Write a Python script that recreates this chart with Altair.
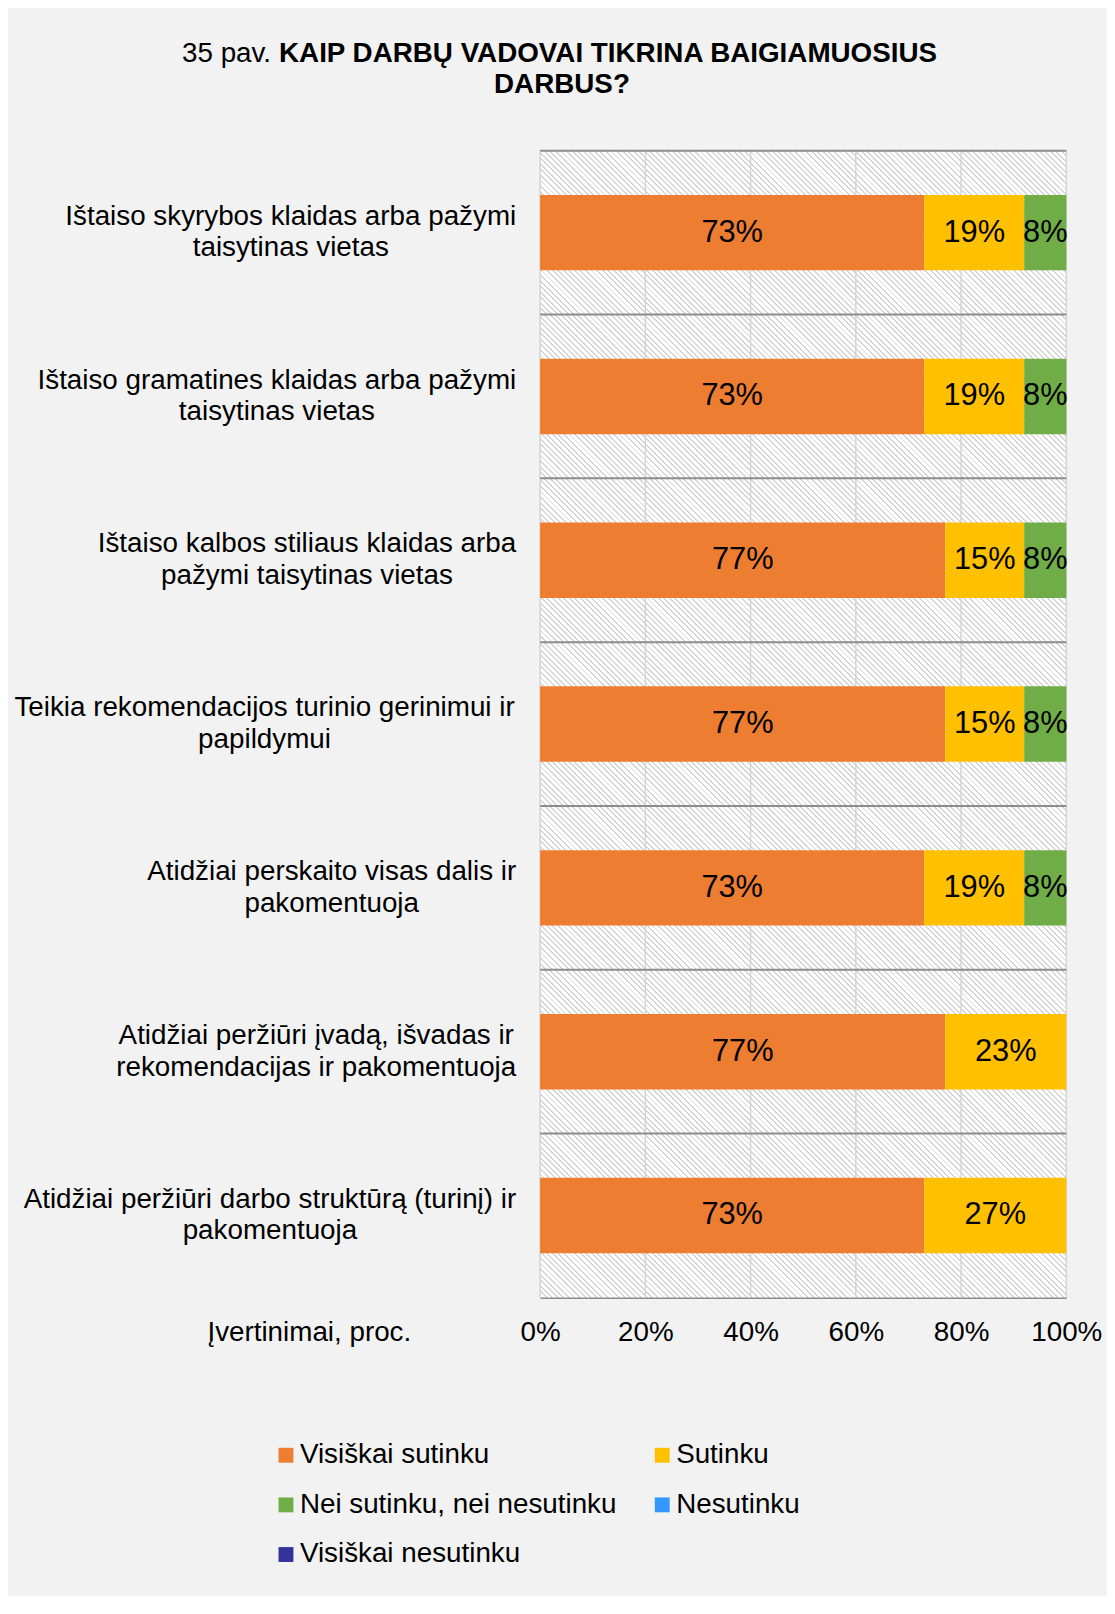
import altair as alt
import pandas as pd

# ---------------- data ----------------
LABEL_LINES = [
    ["Ištaiso skyrybos klaidas arba pažymi", "taisytinas vietas"],
    ["Ištaiso gramatines klaidas arba pažymi", "taisytinas vietas"],
    ["Ištaiso kalbos stiliaus klaidas arba", "pažymi taisytinas vietas"],
    ["Teikia rekomendacijos turinio gerinimui ir", "papildymui"],
    ["Atidžiai perskaito visas dalis ir", "pakomentuoja"],
    ["Atidžiai peržiūri įvadą, išvadas ir", "rekomendacijas ir pakomentuoja"],
    ["Atidžiai peržiūri darbo struktūrą (turinį) ir", "pakomentuoja"],
]
CATS = [" ".join(l) for l in LABEL_LINES]

SERIES = ["Visiškai sutinku", "Sutinku", "Nei sutinku, nei nesutinku",
          "Nesutinku", "Visiškai nesutinku"]
COLORS = ["#ED7D31", "#FFC000", "#70AD47", "#3399FF", "#333399"]
# legend is filled column by column: order so it reads row by row
LEGEND_ORDER = [0, 2, 4, 1, 3]

VIS_SUTINKU = [73, 73, 77, 77, 73, 77, 73]
SUTINKU = [19, 19, 15, 15, 19, 23, 27]
NEI = [8, 8, 8, 8, 8, 0, 0]
NESUTINKU = [0, 0, 0, 0, 0, 0, 0]
VIS_NESUTINKU = [0, 0, 0, 0, 0, 0, 0]

TICKS = [0, 20, 40, 60, 80, 100]

TITLE_PREFIX = "35 pav."
TITLE_BOLD_1 = "KAIP DARBŲ VADOVAI TIKRINA BAIGIAMUOSIUS"
TITLE_BOLD_2 = "DARBUS?"
X_TITLE = "Įvertinimai, proc."

# ---------------- layout constants ----------------
PLOT_W = 530
PLOT_H = 1155
BAND_H = PLOT_H / len(CATS)
FONT = "Liberation Sans"
FS = 28
LINE_H = 32
LABEL_RIGHT = -24

# Arial / Liberation Sans advance widths (per 1000 em)
AW = {
    'a': 556, 'b': 556, 'c': 500, 'd': 556, 'e': 556, 'f': 278, 'g': 556, 'h': 556,
    'i': 222, 'j': 222, 'k': 500, 'l': 222, 'm': 833, 'n': 556, 'o': 556, 'p': 556,
    'q': 556, 'r': 333, 's': 500, 't': 278, 'u': 556, 'v': 500, 'w': 722, 'x': 500,
    'y': 500, 'z': 500, ' ': 278, ',': 278, '.': 278, '(': 333, ')': 333,
    'I': 278, 'T': 611, 'A': 667, 'š': 500, 'ž': 500, 'ū': 556, 'į': 222, 'ą': 556,
}


def text_width(s, size):
    return sum(AW.get(ch, 556) for ch in s) * size / 1000.0


# long table
vals = [VIS_SUTINKU, SUTINKU, NEI, NESUTINKU, VIS_NESUTINKU]
rows = []
for si, (s, v) in enumerate(zip(SERIES, vals)):
    for ci, c in enumerate(CATS):
        rows.append({"cat": c, "series": s, "ord": si, "pct": v[ci]})
df = pd.DataFrame(rows)

bg_df = pd.DataFrame({"cat": CATS, "lo": [TICKS[0]] * len(CATS), "hi": [TICKS[-1]] * len(CATS)})
tick_df = pd.DataFrame({"tick": TICKS})
lab_df = pd.DataFrame({
    "cat": CATS,
    "txt": ["\n".join(l) for l in LABEL_LINES],
    "cx": [LABEL_RIGHT - max(text_width(x, FS) for x in l) / 2 for l in LABEL_LINES],
})


# hatch gradient (diagonal "\" stripes) for a band-size rect
def hatch_gradient(w, h, period=5.6, frac=0.34, line="#d5d5d5", bg="#ffffff"):
    lam = (w + h) / (w * w + h * h)
    x2 = lam * w
    y2 = 1 - lam * h
    n = (w + h) / period
    stops = []
    k = 0
    while k < n:
        a = k / n
        b = min((k + frac) / n, 1.0)
        c = min((k + 1) / n, 1.0)
        stops += [{"offset": a, "color": line}, {"offset": b, "color": line},
                  {"offset": b, "color": bg}, {"offset": c, "color": bg}]
        k += 1
    return {"gradient": "linear", "x1": 0, "y1": 1, "x2": x2, "y2": y2, "stops": stops}


XSCALE = alt.Scale(domain=[0, 100], nice=False, zero=True)
XAXIS = alt.Axis(values=TICKS, labelExpr="datum.value + '%'", grid=False, ticks=False,
                 tickSize=0, labelFontSize=FS, labelFont=FONT, labelColor="#000000",
                 labelPadding=35, labelBaseline="middle", labelFlush=False,
                 labelOverlap=False, domainColor="#8c8c8c",
                 domainWidth=2, title=X_TITLE, titleFont=FONT, titleFontSize=FS,
                 titleFontWeight="normal", titleColor="#000000", titleX=-233,
                 titleY=35, titleAlign="center", titleBaseline="middle", titleAngle=0)
YENC = dict(sort=CATS, scale=alt.Scale(domain=CATS, paddingInner=0, paddingOuter=0), axis=None)

bg = alt.Chart(bg_df).mark_rect(fill=hatch_gradient(PLOT_W, BAND_H), strokeWidth=0).encode(
    x=alt.X("lo:Q", scale=XSCALE, axis=XAXIS),
    x2="hi:Q",
    y=alt.Y("cat:N", **YENC),
)

grid = alt.Chart(tick_df).mark_rule(color="#d4d4d4", strokeWidth=1.5).encode(
    x=alt.X("tick:Q", scale=XSCALE, axis=XAXIS),
    y=alt.value(0),
    y2=alt.value(PLOT_H),
)

seps = alt.Chart(bg_df).mark_rule(color="#8c8c8c", strokeWidth=2).encode(
    y=alt.Y("cat:N", bandPosition=0, **YENC),
    x=alt.value(0),
    x2=alt.value(PLOT_W),
)

stacked = alt.Chart(df).transform_filter("datum.pct > 0").transform_stack(
    stack="pct", groupby=["cat"], as_=["x0", "x1"],
    sort=[alt.SortField("ord", order="ascending")],
)

bars = stacked.mark_bar(size=76, strokeWidth=0).encode(
    x=alt.X("x0:Q", scale=XSCALE, axis=XAXIS),
    x2="x1:Q",
    y=alt.Y("cat:N", **YENC),
    color=alt.Color("series:N",
                    scale=alt.Scale(domain=[SERIES[i] for i in LEGEND_ORDER],
                                    range=[COLORS[i] for i in LEGEND_ORDER]),
                    legend=alt.Legend(orient="none", legendX=-270, legendY=1300,
                                      columns=2, symbolType="square", symbolSize=225,
                                      symbolStrokeWidth=0, symbolOpacity=1,
                                      labelFont=FONT, labelFontSize=FS,
                                      labelColor="#000000", labelOffset=0,
                                      labelLimit=600, columnPadding=31, rowPadding=22,
                                      title=None)),
)

pct_text = stacked.transform_calculate(
    mid="(datum.x0 + datum.x1) / 2", lab="datum.pct + '%'"
).mark_text(font=FONT, fontSize=31, color="#000000", baseline="middle", align="center").encode(
    x=alt.X("mid:Q", scale=XSCALE, axis=XAXIS),
    y=alt.Y("cat:N", **YENC),
    text="lab:N",
)

cat_text = alt.Chart(lab_df).mark_text(
    font=FONT, fontSize=FS, color="#000000", align="center", baseline="middle",
    lineBreak="\n", lineHeight=LINE_H, dy=-LINE_H / 2,
).encode(
    x=alt.X("cx:Q", scale=None, axis=None),
    y=alt.Y("cat:N", **YENC),
    text="txt:N",
)

title_df = pd.DataFrame({"a": [TITLE_PREFIX], "b": [TITLE_BOLD_1], "c": [TITLE_BOLD_2]})
t1 = alt.Chart(title_df).mark_text(font=FONT, fontSize=FS, color="#000000", align="right",
                                   baseline="alphabetic").encode(
    x=alt.value(-271), y=alt.value(-89), text="a:N")
t2 = alt.Chart(title_df).mark_text(font=FONT, fontSize=FS, color="#000000", align="left",
                                   baseline="alphabetic", fontWeight="bold").encode(
    x=alt.value(-263), y=alt.value(-89), text="b:N")
t3 = alt.Chart(title_df).mark_text(font=FONT, fontSize=FS, color="#000000", align="center",
                                   baseline="alphabetic", fontWeight="bold").encode(
    x=alt.value(22), y=alt.value(-58), text="c:N")

chart = alt.layer(bg, grid, seps, bars, pct_text, cat_text, t1, t2, t3).properties(
    width=PLOT_W,
    height=PLOT_H,
    autosize=alt.AutoSizeParams(type="none"),
    padding={"left": 536, "top": 138, "right": 41, "bottom": 295},
).configure(
    background="#f2f2f2",
    font=FONT,
).configure_view(stroke=None)

chart.save("out.html", embed_options={"renderer": "svg", "actions": False})
